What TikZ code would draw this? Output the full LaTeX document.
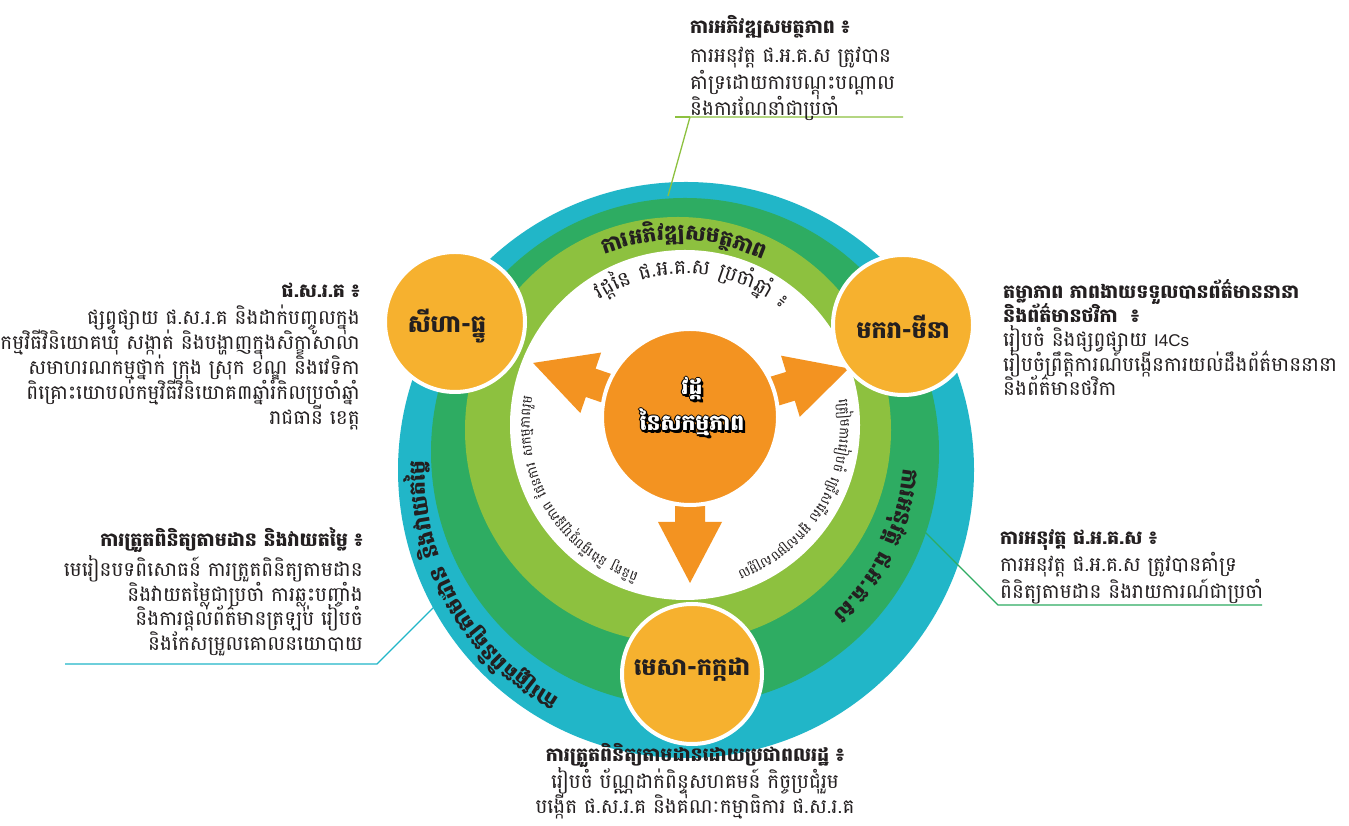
\documentclass[tikz,border=0pt]{standalone}
\usepackage{fontspec}
\newfontfamily\kh[Script=Khmer]{Battambang}
\newfontfamily\lat{Liberation Sans}
\usetikzlibrary{calc}

\definecolor{ringteal}{HTML}{21B6C8}
\definecolor{ringdark}{HTML}{2EAC62}
\definecolor{ringlight}{HTML}{8DC13F}
\definecolor{seasonfill}{HTML}{F6B12F}
\definecolor{hubfill}{HTML}{F39321}
\definecolor{ink}{HTML}{231F20}

\newdimen\arcone
\newcount\arcn
\newcommand\ksp{\hspace{0.4em}}
% widths of the clusters, taken before the picture
% #1 key, #2 font, #3 clusters
\newcommand\arcprep[3]{%
  \global\arcn=0
  \gdef\arcsum{0}%
  \foreach \cl in #3 {%
    \settowidth\arcone{#2\cl}%
    \global\advance\arcn by 1
    \expandafter\xdef\csname arcw@#1@\the\arcn\endcsname{\the\arcone}%
    \pgfmathsetmacro\arctmp{\arcsum+\the\arcone}\xdef\arcsum{\arctmp}%
  }%
  \expandafter\xdef\csname arcsum@#1\endcsname{\arcsum}%
}
% clusters set round an arc, read clockwise, tops outward
% #1 key, #2 centre, #3 baseline radius, #4 middle angle, #5 font, #6 clusters
\newcommand\arctext[6]{%
  \global\arcn=0
  \gdef\arcrun{0}%
  \edef\arcall{\csname arcsum@#1\endcsname}%
  \foreach \cl in #6 {%
    \global\advance\arcn by 1
    \edef\arcw{\csname arcw@#1@\the\arcn\endcsname}%
    \pgfmathsetmacro\arcang{#4+(0.5*\arcall-\arcrun-0.5*\arcw)/(#3)*57.2958}%
    \path (#2) ++(\arcang:#3) node[inner sep=0pt, anchor=base, rotate=\arcang-90, text=ink] {#5\cl};%
    \pgfmathsetmacro\arctmp{\arcrun+\arcw}\xdef\arcrun{\arctmp}%
  }%
}

\def\bandfontA{\kh\bfseries\fontsize{21.5}{21.5}\selectfont}
\def\bandfontB{\kh\bfseries\fontsize{22}{22}\selectfont}
\def\innerfontA{\kh\fontsize{20.5}{20.5}\selectfont}
\def\innerfontB{\kh\fontsize{13.5}{13.5}\selectfont}
\def\lightlist{ការ,អភិ,វឌ្ឍ,សម,ត្ថ,ភាព}
\def\darklist{ការ,អនុ,វត្ត,\ksp,ផ.,អ.,គ.,ស}
\def\teallist{ការ,ត្រួត,ពិនិ,ត្យ,តាម,ដាន,\ksp,និង,វាយ,តម្លៃ}
\def\intoplist{វដ្ត,នៃ,\ksp,ផ.,អ.,គ.,ស,\ksp,ប្រចាំ,ឆ្នាំ,\ksp,៖}
\def\inleftlist{ពិនិ,ត្យ,\ksp,និង,ធ្វើ,បច្ចុ,ប្បន្ន,ភាព,\ksp,ផែន,ការ,\ksp,សកម្ម,ភាព,រួម}
\def\inrightlist{ត្រៀម,ការ,រៀប,ចំ,\ksp,ជ្រើស,រើស,\ksp,អ្នក,សម្រប,សម្រួល}

\begin{document}
\arcprep{lt}{\bandfontA}{\lightlist}%
\arcprep{dk}{\bandfontB}{\darklist}%
\arcprep{tl}{\bandfontB}{\teallist}%
\arcprep{it}{\innerfontA}{\intoplist}%
\arcprep{il}{\innerfontB}{\inleftlist}%
\arcprep{ir}{\innerfontB}{\inrightlist}%
\begin{tikzpicture}[x=1pt,y=1pt,
  season/.style={circle, minimum size=140pt, fill=seasonfill, draw=white, line width=4pt, inner sep=0pt},
  seasontxt/.style={inner sep=0pt, text=ink, font=\kh\bfseries\fontsize{24}{24}\selectfont},
  hubdisc/.style={circle, minimum size=176pt, fill=hubfill, draw=white, line width=4pt},
  hubtxt/.style={inner sep=0pt, align=center, font={\kh\bfseries\fontsize{22}{36}\selectfont\lineskiplimit=-30pt}},
  blocktxt/.style={inner sep=0pt, text=ink},
  callout/.style={line width=1.3pt},
]
\useasboundingbox (0,0) rectangle (1349,826);
\fill[white] (0,0) rectangle (1349,826);

% rings
\coordinate (tealc) at (686,356);
\coordinate (darkc) at (685,374);
\coordinate (lightc) at (678,396);
\coordinate (innerc) at (685,401);
\fill[ringteal] (tealc) circle (288);
\fill[ringdark] (darkc) circle (254);
\fill[ringlight] (lightc) circle (213);
\fill[white] (innerc) circle (175);

% band texts
\arctext{lt}{lightc}{190}{88}{\bandfontA}{\lightlist}
\arctext{dk}{darkc}{219}{-26}{\bandfontB}{\darklist}
\arctext{tl}{tealc}{261}{209.5}{\bandfontB}{\teallist}

% inner texts
\arctext{it}{innerc}{151}{87}{\innerfontA}{\intoplist}
\arctext{il}{innerc}{155}{211}{\innerfontB}{\inleftlist}
\arctext{ir}{innerc}{155}{-30.5}{\innerfontB}{\inrightlist}

% arrows from the hub
\coordinate (hubc) at (690,409);
\foreach \ang in {161,17,270}{
  \begin{scope}[shift={(hubc)}, rotate=\ang]
    \fill[hubfill] (60,-15) -- (105,-15) -- (105,-32) -- (166,0) -- (105,32) -- (105,15) -- (60,15) -- cycle;
  \end{scope}
}

% hub
\node[hubdisc] (hub) at (hubc) {};
\foreach \dx/\dy in {-1.2/0,1.2/0,0/1.2,0/-1.2,1.5/-1.5,2.5/-2.5}{
  \node[hubtxt, text=black] at ([shift={(\dx+2,\dy+10)}]hub.center) {វដ្ត\\នៃសកម្មភាព};
}
\node[hubtxt, text=white] (hubtitle) at ([shift={(2,10)}]hub.center) {វដ្ត\\នៃសកម្មភាព};

% seasons
\node[season] (sihadhnu) at (455,504) {};
\node[seasontxt] at ([xshift=-8,yshift=-4]sihadhnu.center) {សីហា-ធ្នូ};
\node[season] (makaramina) at (903,501) {};
\node[seasontxt] at ([yshift=-2]makaramina.center) {មករា-មីនា};
\node[season] (mesakakada) at (692,152) {};
\node[seasontxt] at ([yshift=4]mesakakada.center) {មេសា-កក្កដា};

% callouts
\coordinate (topring) at (668,630);
\coordinate (topknee) at (690,709);
\coordinate (topend) at (903,709);
\draw[callout, ringlight] (topring) -- (topknee) -- (topend);
\draw[callout, ringlight] (topknee) -- ++(-15,0);
\coordinate (lbring) at (445,230);
\coordinate (lbknee) at (377,162);
\coordinate (lbend) at (65,162);
\draw[callout, ringteal] (lbring) -- (lbknee) -- (lbend);
\coordinate (rbring) at (923,296);
\coordinate (rbknee) at (998,221);
\coordinate (rbend) at (1262,221);
\draw[callout, ringdark] (rbring) -- (rbknee) -- (rbend);

% text blocks
\node[blocktxt, anchor=north west, align=left, font={\kh\fontsize{20}{26.5}\selectfont\lineskiplimit=-30pt}] (ttop) at (690,811)
  {{\bfseries\fontsize{19}{26.5}\selectfont ការអភិវឌ្ឍសមត្ថភាព ៖}\\[3pt]ការអនុវត្ត ផ.អ.គ.ស ត្រូវបាន\\គាំទ្រដោយការបណ្ដុះបណ្ដាល\\និងការណែនាំជាប្រចាំ};
\node[blocktxt, anchor=north east, align=right, font={\kh\fontsize{20}{25}\selectfont\lineskiplimit=-30pt}] (tleft) at (360,543)
  {{\bfseries\fontsize{19}{25}\selectfont ផ.ស.រ.គ ៖}\\[2pt]ផ្សព្វផ្សាយ ផ.ស.រ.គ និងដាក់បញ្ចូលក្នុង\\កម្មវិធីវិនិយោគឃុំ សង្កាត់ និងបង្ហាញក្នុងសិក្ខាសាលា\\សមាហរណកម្មថ្នាក់ ក្រុង ស្រុក ខណ្ឌ និងវេទិកា\\ពិគ្រោះយោបល់កម្មវិធីវិនិយោគ៣ឆ្នាំរំកិលប្រចាំឆ្នាំ\\រាជធានី ខេត្ត};
\node[blocktxt, anchor=north west, align=left, font={\kh\fontsize{20}{24.3}\selectfont\lineskiplimit=-30pt}] (tright) at (1003,547)
  {{\bfseries\fontsize{19}{24.3}\selectfont តម្លាភាព ភាពងាយទទួលបានព័ត៌មាននានា}\\{\bfseries\fontsize{19}{24.3}\selectfont និងព័ត៌មានថវិកា\ \ ៖}\\រៀបចំ និងផ្សព្វផ្សាយ {\lat\fontsize{17}{24.3}\selectfont I4Cs}\\រៀបចំព្រឹត្តិការណ៍បង្កើនការយល់ដឹងព័ត៌មាននានា\\និងព័ត៌មានថវិកា};
\node[blocktxt, anchor=north east, align=right, font={\kh\fontsize{20}{24.5}\selectfont\lineskiplimit=-30pt}] (tlbot) at (363,299)
  {{\bfseries\fontsize{19}{24.5}\selectfont ការត្រួតពិនិត្យតាមដាន និងវាយតម្លៃ ៖}\\[6pt]មេរៀនបទពិសោធន៍ ការត្រួតពិនិត្យតាមដាន\ \\និងវាយតម្លៃជាប្រចាំ ការឆ្លុះបញ្ចាំង\\និងការផ្ដល់ព័ត៌មានត្រឡប់ រៀបចំ\\និងកែសម្រួលគោលនយោបាយ};
\node[blocktxt, anchor=north west, align=left, font={\kh\fontsize{20}{27}\selectfont\lineskiplimit=-30pt}] (trbot) at (1000,297)
  {{\bfseries\fontsize{19}{27}\selectfont ការអនុវត្ត ផ.អ.គ.ស ៖}\\ការអនុវត្ត ផ.អ.គ.ស ត្រូវបានគាំទ្រ\\ពិនិត្យតាមដាន និងរាយការណ៍ជាប្រចាំ};
\node[blocktxt, anchor=north, align=center, font={\kh\fontsize{20}{24.5}\selectfont\lineskiplimit=-30pt}] (tbot) at (695,83)
  {{\bfseries\fontsize{19}{24.5}\selectfont ការត្រួតពិនិត្យតាមដានដោយប្រជាពលរដ្ឋ ៖}\\[3pt]រៀបចំ ប័ណ្ណដាក់ពិន្ទុសហគមន៍ កិច្ចប្រជុំរួម\\បង្កើត ផ.ស.រ.គ និងគណៈកម្មាធិការ ផ.ស.រ.គ};
\end{tikzpicture}
\end{document}
